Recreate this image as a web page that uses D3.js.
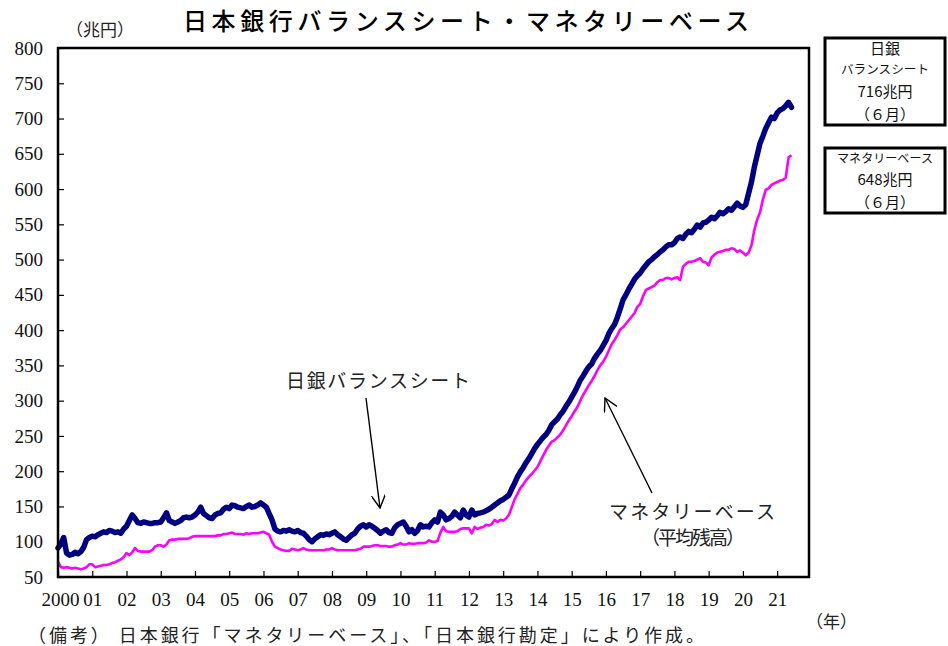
<!DOCTYPE html>
<html><head><meta charset="utf-8">
<script src="https://cdn.jsdelivr.net/npm/d3@7"></script>
<style>
body{margin:0;background:#fff;}
svg{display:block;}
.serif{font-family:"Liberation Serif","DejaVu Serif",serif;}
.jp{font-family:"Noto Sans CJK JP","Noto Sans CJK SC",sans-serif;}
</style></head>
<body>
<svg id="c" width="948" height="646"></svg>
<script>
// ---- data (monthly, Jan 2000 – Jun 2021, 兆円) ----
const startYear = 2000;
const yTicks = [50,100,150,200,250,300,350,400,450,500,550,600,650,700,750,800];
const xTickYears = d3.range(2000, 2022);
const xTickLabels = ["2000","01","02","03","04","05","06","07","08","09","10","11","12","13","14","15","16","17","18","19","20","21"];
const seriesNames = ["日銀バランスシート","マネタリーベース（平均残高）"];
const balanceSheet = [
 91,97,106,84,81,82,85,83,86,92,103,106,
 108,107,110,112,114,113,116,115,113,114,112,118,
 122,130,138,133,127,126,128,127,126,126,127,127,
 128,134,141,130,128,126,128,130,134,135,134,135,
 138,142,149,140,137,134,133,138,140,141,146,149,
 147,152,151,149,148,147,150,152,149,150,152,155,
 152,149,140,131,118,115,114,116,115,117,115,114,
 116,113,112,108,103,100,104,107,110,109,111,110,
 112,114,110,107,104,102,106,110,112,118,122,124,
 121,124,122,119,116,112,115,117,113,112,120,124,
 126,128,122,114,117,112,116,124,121,122,121,127,
 131,128,142,138,131,133,136,142,138,134,145,138,
 135,145,138,140,141,142,144,146,149,152,155,158,
 160,163,166,175,183,192,199,205,212,218,225,232,
 238,243,248,252,258,266,270,274,280,285,292,298,
 305,312,320,329,335,342,348,352,360,366,371,378,
 385,395,402,408,418,430,443,450,458,465,472,477,
 481,487,492,497,500,504,507,511,514,518,521,521,
 524,530,532,530,536,540,538,543,549,546,552,553,
 556,560,558,562,567,565,568,572,570,575,580,576,
 574,578,594,610,631,648,665,675,686,694,702,700,
 708,712,714,718,723,716
];
const monetaryBase = [
 72,64,63,64,63,62,63,62,61,62,64,68,
 68,64,65,66,67,67,68,70,71,73,75,78,
 84,81,85,91,87,86,86,86,86,88,93,95,
 95,93,96,102,103,103,104,104,104,104,105,107,
 108,108,108,108,108,108,108,108,109,109,111,111,
 112,113,111,111,111,110,112,111,112,112,112,113,
 114,112,110,100,93,91,89,88,87,87,90,89,
 88,89,91,89,88,88,88,88,88,88,89,89,
 91,89,88,88,88,88,88,88,88,89,90,93,
 93,93,94,95,95,94,94,94,93,93,95,96,
 98,96,96,98,97,97,98,98,98,99,102,100,
 100,101,113,121,115,114,114,114,115,118,119,119,
 119,112,121,118,120,121,124,123,125,131,128,131,
 130,133,138,149,160,168,176,181,187,192,196,201,
 206,214,222,230,236,242,244,248,252,258,265,272,
 278,285,291,300,308,315,322,328,335,343,350,355,
 362,371,380,386,393,401,404,409,414,419,424,433,
 437,448,457,459,461,463,468,471,471,474,474,472,
 474,475,471,490,494,497,497,498,500,502,497,496,
 492,503,507,510,511,512,514,514,516,515,511,513,
 510,506,510,520,542,557,567,585,599,601,606,608,
 610,612,613,616,645,648
];
const latestBS = "716兆円", latestMB = "648兆円", latestMonth = "（６月）";

// ---- layout ----
const svg = d3.select("#c");
const L = 58, R = 809, T = 48, B = 577;
const x = d3.scaleLinear().domain([2000, 2021.93]).range([L, R]);
const y = d3.scaleLinear().domain([50, 800]).range([B, T]);
const toT = i => startYear + i/12;

// title
svg.append("text").attr("class","jp").attr("x",466).attr("y",30)
  .attr("text-anchor","middle").attr("font-size",24).attr("font-weight",500)
  .attr("textLength",566).attr("lengthAdjust","spacing")
  .text("日本銀行バランスシート・マネタリーベース");

// unit
svg.append("text").attr("class","jp").attr("x",66).attr("y",36)
  .attr("font-size",17).attr("fill","#222").text("（兆円）");

// axes
const yAxis = d3.axisLeft(y).tickValues(yTicks).tickSize(-6).tickPadding(15).tickFormat(d3.format("d"));
const gy = svg.append("g").attr("transform",`translate(${L},0)`).call(yAxis);
gy.select(".domain").remove();
gy.selectAll(".tick line").attr("stroke","#000").attr("stroke-width",1.2);
gy.selectAll("text").attr("class","serif").attr("font-size",19).attr("fill","#111");

const xAxis = d3.axisBottom(x).tickValues(xTickYears).tickSize(-6).tickPadding(16)
  .tickFormat((d,i)=>xTickLabels[i]);
const gx = svg.append("g").attr("transform",`translate(0,${B})`).call(xAxis);
gx.select(".domain").remove();
gx.selectAll(".tick line").attr("stroke","#000").attr("stroke-width",1.2);
gx.selectAll("text").attr("class","serif").attr("font-size",19).attr("fill","#111");
gx.selectAll(".tick").filter(d=>d===2000).select("text").attr("dx",2);

// lines
const line = d3.line().x((d,i)=>x(toT(i))).y(d=>y(d));
svg.append("path").datum(monetaryBase).attr("d",line).attr("fill","none")
  .attr("stroke","#ff00ff").attr("stroke-width",2.6).attr("stroke-linejoin","round");
svg.append("path").datum(balanceSheet).attr("d",line).attr("fill","none")
  .attr("stroke","#000080").attr("stroke-width",5.5).attr("stroke-linejoin","round").attr("stroke-linecap","round");

// frame
svg.append("rect").attr("x",L).attr("y",T).attr("width",R-L).attr("height",B-T)
  .attr("fill","none").attr("stroke","#000").attr("stroke-width",2.5);

// annotations
svg.append("defs").append("marker").attr("id","ah").attr("viewBox","0 0 12 12")
  .attr("refX",11).attr("refY",6).attr("markerWidth",14).attr("markerHeight",14)
  .attr("markerUnits","userSpaceOnUse").attr("orient","auto")
  .append("path").attr("d","M0,0 L11,6 L0,12").attr("fill","none").attr("stroke","#000").attr("stroke-width",1.2);

svg.append("text").attr("class","jp").attr("x",378).attr("y",388).attr("text-anchor","middle")
  .attr("font-size",19).attr("fill","#222").attr("textLength",184).attr("lengthAdjust","spacing").text(seriesNames[0]);
svg.append("line").attr("x1",366).attr("y1",398).attr("x2",380).attr("y2",508)
  .attr("stroke","#000").attr("stroke-width",1.4).attr("marker-end","url(#ah)");

svg.append("text").attr("class","jp").attr("x",692).attr("y",519).attr("text-anchor","middle")
  .attr("font-size",19).attr("fill","#222").attr("textLength",166).attr("lengthAdjust","spacing").text("マネタリーベース");
svg.append("text").attr("class","jp").attr("x",693).attr("y",545).attr("text-anchor","middle")
  .attr("font-size",19).attr("fill","#222").attr("textLength",104).attr("lengthAdjust","spacing").text("（平均残高）");
svg.append("line").attr("x1",652).attr("y1",493).attr("x2",605).attr("y2",398)
  .attr("stroke","#000").attr("stroke-width",1.4).attr("marker-end","url(#ah)");

// x unit and note
svg.append("text").attr("class","jp").attr("x",806).attr("y",628).attr("font-size",17)
  .attr("fill","#222").text("（年）");
svg.append("text").attr("class","jp").attr("x",28).attr("y",642).attr("font-size",18)
  .attr("fill","#222").attr("textLength",676).attr("lengthAdjust","spacing")
  .text("（備考） 日本銀行「マネタリーベース」、「日本銀行勘定」により作成。");

// right boxes
function box(y0,h){
  svg.append("rect").attr("x",825).attr("y",y0).attr("width",120).attr("height",h)
    .attr("fill","#fff").attr("stroke","#000").attr("stroke-width",3);
}
box(38,87);
box(148,65);
const bx = 885;
function t(txt,yy,fs,len){
  const e = svg.append("text").attr("class","jp").attr("x",bx).attr("y",yy).attr("text-anchor","middle")
    .attr("font-size",fs).attr("fill","#111").text(txt);
  if(len) e.attr("textLength",len).attr("lengthAdjust","spacingAndGlyphs");
}
t("日銀",54,15);
t("バランスシート",74,12,88);
t(latestBS,97,15);
t(latestMonth,120,15);
t("マネタリーベース",163,12,96);
t(latestMB,185,15);
t(latestMonth,208,15);
</script>
</body></html>
